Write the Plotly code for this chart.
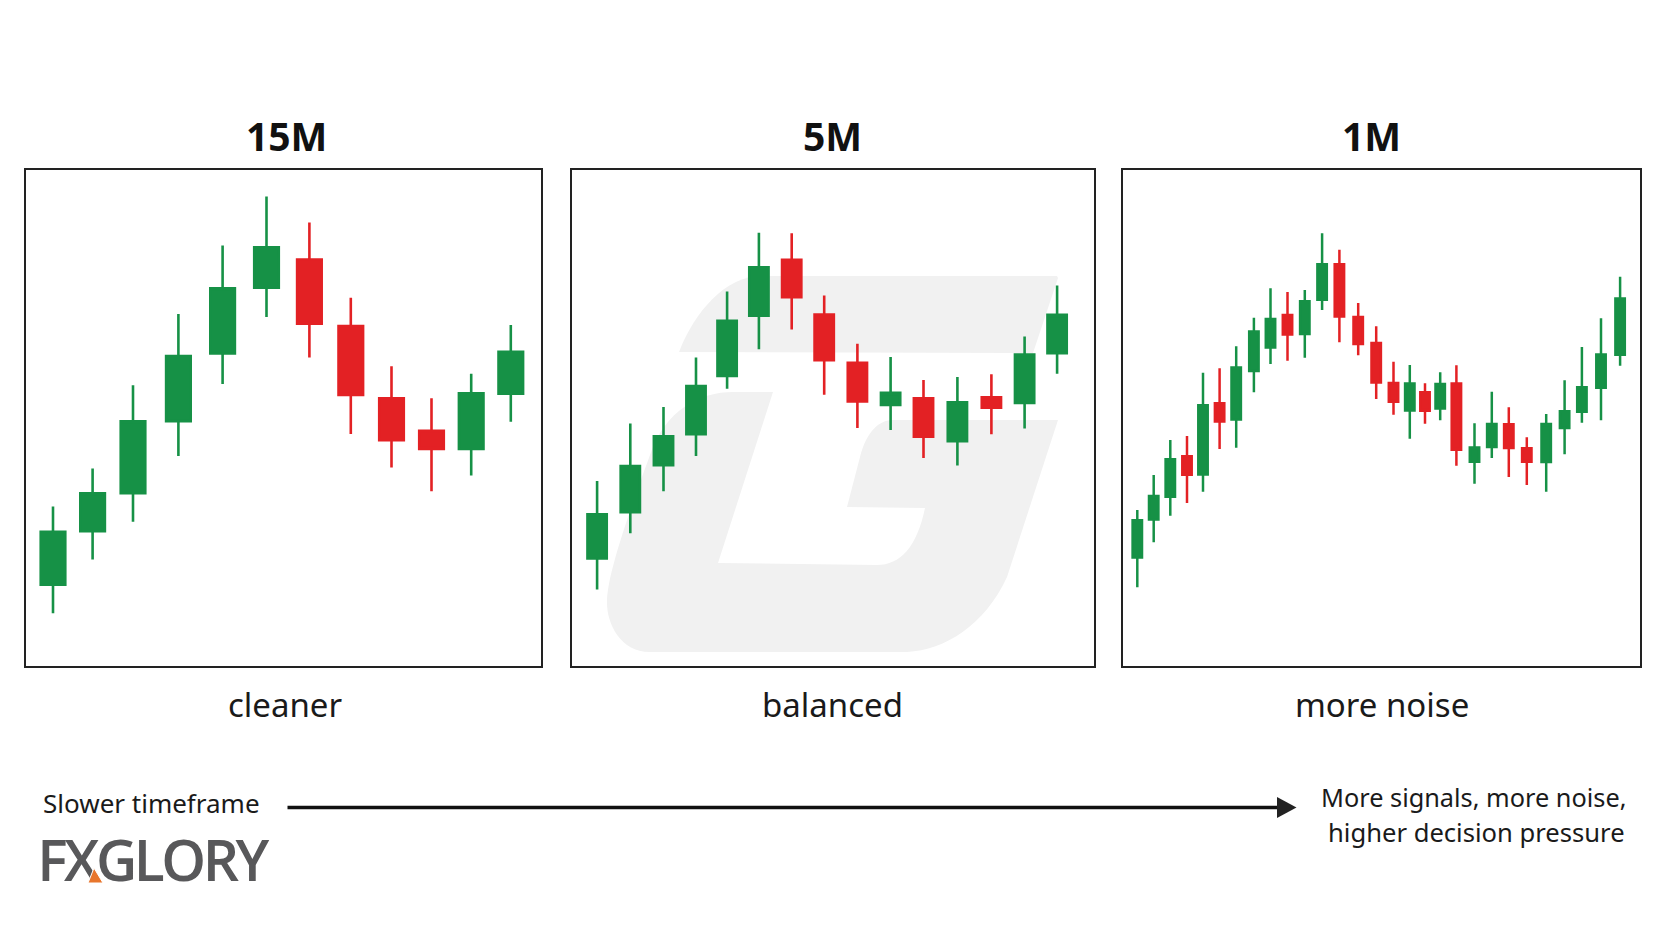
import plotly.graph_objects as go

# ===============================
# 1. Candle data
# ===============================
GREEN = "#169146"
RED = "#e32124"

# 15M
x_15 = [28.6, 68.2, 108.6, 154.0, 198.2, 242.1, 285.0, 326.4, 367.1, 407.1, 446.8, 486.4]
open_15 = [81.6, 135.0, 173.0, 245.1, 312.7, 378.5, 409.3, 342.8, 270.4, 237.9, 217.3, 272.4]
high_15 = [161.1, 199.1, 282.3, 353.5, 422.0, 471.1, 445.0, 369.8, 301.3, 269.2, 293.7, 342.4]
low_15 = [54.2, 108.1, 145.7, 211.4, 283.5, 350.4, 310.0, 233.6, 199.9, 176.2, 192.0, 245.8]
close_15 = [137.0, 175.4, 247.4, 312.7, 380.4, 421.6, 342.4, 271.2, 226.0, 217.3, 275.5, 317.1]

# 5M
x_5 = [26.1, 59.3, 92.5, 125.0, 156.1, 187.9, 220.7, 253.2, 286.4, 319.6, 352.5, 386.4, 420.4, 453.6, 486.1]
open_5 = [107.7, 154.0, 201.1, 232.0, 290.2, 350.4, 409.0, 354.3, 306.0, 261.3, 270.4, 224.9, 271.6, 263.3, 313.1]
high_5 = [186.5, 243.9, 260.5, 310.0, 376.1, 434.7, 434.3, 372.1, 323.8, 310.4, 287.4, 290.6, 293.3, 331.0, 382.0]
low_5 = [78.0, 134.2, 176.2, 211.4, 278.7, 318.3, 338.1, 272.8, 239.5, 237.5, 209.4, 201.9, 233.2, 239.1, 293.7]
close_5 = [154.4, 202.7, 232.4, 282.7, 348.0, 401.4, 369.0, 306.0, 264.8, 275.9, 229.6, 266.4, 258.5, 314.3, 353.9]

# 1M
x_1 = [15.6, 32.0, 48.6, 65.3, 81.3, 97.9, 114.5, 132.2, 148.8, 165.8, 183.1, 200.4, 217.7, 236.5, 254.5,
       271.8, 288.1, 303.3, 318.5, 334.7, 352.8, 370.1, 387.1, 405.1, 424.5, 442.9, 460.2, 479.3, 498.4]
open_1 = [108.8, 146.8, 169.5, 212.5, 191.8, 265.5, 246.8, 295.2, 318.8, 353.8, 332.2, 366.5, 404.5, 351.8, 325.8,
          285.8, 255.8, 276.5, 257.8, 285.2, 204.5, 219.2, 244.5, 220.5, 204.2, 238.2, 254.5, 278.5, 311.5]
high_1 = [157.5, 192.5, 227.5, 231.5, 294.8, 299.2, 321.2, 349.8, 379.2, 375.5, 377.5, 434.2, 417.8, 364.5, 341.2,
          305.8, 302.5, 284.2, 295.2, 302.2, 244.2, 275.8, 260.2, 230.2, 253.5, 287.2, 320.5, 349.2, 390.8]
low_1 = [80.2, 125.2, 151.8, 164.5, 175.8, 218.5, 219.8, 275.2, 303.5, 306.8, 309.8, 357.5, 325.2, 312.2, 268.5,
         252.8, 228.8, 243.8, 247.2, 201.8, 183.8, 209.5, 190.5, 182.5, 175.8, 213.2, 244.8, 247.2, 301.8]
close_1 = [148.5, 172.8, 209.5, 191.5, 263.5, 244.8, 301.2, 337.2, 349.8, 331.8, 367.5, 404.5, 349.8, 322.2, 283.8,
           264.5, 285.2, 255.5, 284.8, 216.5, 221.2, 244.8, 218.2, 204.5, 244.8, 257.5, 281.5, 314.2, 370.2]

titles = ["15M", "5M", "1M"]
notes = ["cleaner", "balanced", "more noise"]

# ===============================
# 2. Build the figure
# ===============================
fig = go.Figure()

# Full page axis, in pixels, holds the watermark and the logo
fig.add_trace(go.Scatter(
    x=[151.5], y=[867], mode="text",
    text=['<span style="letter-spacing:-3.5px">FXGLORY</span>'],
    textfont=dict(family="Open Sans", size=57, color="#58585a", weight=600),
    textposition="middle center", hoverinfo="skip", showlegend=False,
))


def add_candles(x, o, h, l, c, axis_no, line_width=2.6):
    # the outline adds half a line to each end of a body, so pull the body in by that much
    inset = line_width / 2
    o2 = [a + inset if a < b else a - inset for a, b in zip(o, c)]
    c2 = [b - inset if a < b else b + inset for a, b in zip(o, c)]
    fig.add_trace(go.Candlestick(
        x=x, open=o2, high=h, low=l, close=c2,
        xaxis="x%d" % axis_no, yaxis="y%d" % axis_no,
        whiskerwidth=0, showlegend=False,
        increasing=dict(line=dict(color=GREEN, width=line_width), fillcolor=GREEN),
        decreasing=dict(line=dict(color=RED, width=line_width), fillcolor=RED),
    ))


add_candles(x_15, open_15, high_15, low_15, close_15, 2)
add_candles(x_5, open_5, high_5, low_5, close_5, 3)
add_candles(x_1, open_1, high_1, low_1, close_1, 4, line_width=2.5)

W, H = 1664, 928
panels = [(24.4, 542.2), (571.0, 1094.6), (1121.7, 1641.5)]
top, bottom = 168.7, 667.5
FRAME = 2.2  # axis lines sit outside the domain, so the domain is pulled in by this much
FRAME_STYLE = dict(showgrid=False, zeroline=False, showticklabels=False, ticks="", showline=True, mirror=True,
                   linecolor="#222222", linewidth=FRAME, fixedrange=True)


def panel_x(left, right):
    return dict(domain=[(left + FRAME / 2) / W, (right - FRAME / 2) / W],
                range=[FRAME / 2, right - left - FRAME / 2],
                rangeslider=dict(visible=False), **FRAME_STYLE)


def panel_y():
    return dict(domain=[1 - (bottom - FRAME / 2) / H, 1 - (top + FRAME / 2) / H],
                range=[FRAME / 2, bottom - top - FRAME / 2], **FRAME_STYLE)


hidden = dict(visible=False, showgrid=False, zeroline=False, fixedrange=True)

# Text around the panels
annotations = []
for label, cx in zip(titles, [286.5, 832, 1371]):
    annotations.append(dict(x=cx, y=135, xref="x", yref="y", text="<b>%s</b>" % label, showarrow=False,
                            font=dict(family="Noto Sans", size=39, color="#111111")))
for label, cx in zip(notes, [285, 832, 1381.5]):
    annotations.append(dict(x=cx, y=704, xref="x", yref="y", text=label, showarrow=False,
                            font=dict(family="Noto Sans", size=33, color="#1a1a1a")))
annotations.append(dict(x=41, y=803, xref="x", yref="y", text="Slower timeframe", showarrow=False, xanchor="left",
                        font=dict(family="Noto Sans", size=26, color="#1a1a1a")))
annotations.append(dict(x=1473.5, y=796.5, xref="x", yref="y", text="More signals, more noise,",
                        showarrow=False, font=dict(family="Noto Sans", size=25.3, color="#1a1a1a")))
annotations.append(dict(x=1476.5, y=832.5, xref="x", yref="y", text="higher decision pressure",
                        showarrow=False, font=dict(family="Noto Sans", size=25.6, color="#1a1a1a")))

# Watermark, arrow and the orange cut in the logo's X
shapes = [
    dict(type="path", xref="x", yref="y", layer="below", fillcolor="#f1f1f1", line=dict(width=0),
         path="M679,352 C690,323 717,280 757,276 L1057,276 L1058,278 L1033,353 Z"),
    dict(type="path", xref="x", yref="y", layer="below", fillcolor="#f1f1f1", line=dict(width=0),
         path="M773,392 L718,563 L877,565 C900,565 917,547 925,508 L847,507 L860,457 C867,430 880,420 893,420 "
              "L1058,420 L1007,577 C985,625 945,650 907,652 L650,652 C620,652 607,623 607,603 "
              "C607,580 620,537 650,455 C665,410 700,392 733,392 Z"),
    dict(type="line", xref="x", yref="y", x0=287.5, x1=1280, y0=807.5, y1=807.5, line=dict(color="#111111", width=3.4)),
    dict(type="path", xref="x", yref="y", fillcolor="#222222", line=dict(width=0),
         path="M1277,797 L1296.5,807.5 L1277,818 Z"),
    dict(type="path", xref="x", yref="y", fillcolor="#e8762d", line=dict(color="#ffffff", width=1),
         path="M94,868 L103,883 L88,883 Z"),
]

fig.update_layout(
    width=W, height=H,
    margin=dict(l=0, r=0, t=0, b=0),
    paper_bgcolor="#ffffff", plot_bgcolor="rgba(0,0,0,0)",
    showlegend=False, boxgap=0.38, boxgroupgap=0,
    xaxis=dict(domain=[0, 1], range=[0, W], **hidden),
    yaxis=dict(domain=[0, 1], range=[H, 0], **hidden),
    xaxis2=panel_x(*panels[0]), yaxis2=dict(anchor="x2", **panel_y()),
    xaxis3=panel_x(*panels[1]), yaxis3=dict(anchor="x3", **panel_y()),
    xaxis4=panel_x(*panels[2]), yaxis4=dict(anchor="x4", **panel_y()),
    annotations=annotations,
    shapes=shapes,
)
fig.layout.xaxis2.anchor = "y2"
fig.layout.xaxis3.anchor = "y3"
fig.layout.xaxis4.anchor = "y4"

# ===============================
# 3. Export to HTML
# ===============================
fig.write_html("out.html", config=dict(displayModeBar=False), post_script="document.body.style.margin='0';")
